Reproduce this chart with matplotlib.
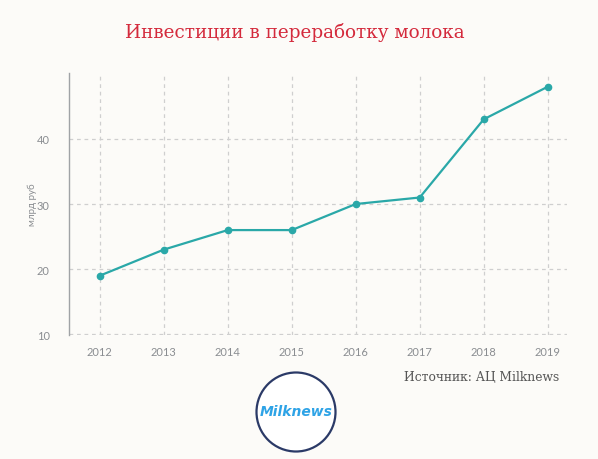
import matplotlib
matplotlib.use("Agg")
import matplotlib.pyplot as plt
from matplotlib.patches import Circle

years = [2012, 2013, 2014, 2015, 2016, 2017, 2018, 2019]
invest = [19, 23, 26, 26, 30, 31, 43, 48]
yticks = [10, 20, 30, 40]

bg = "#fcfbf8"
teal = "#2aa8a8"
grey = "#8a8d91"

fig = plt.figure(figsize=(5.98, 4.60), dpi=100, facecolor=bg)
ax = fig.add_axes([0.1154, 0.2696, 0.8326, 0.5694], facecolor=bg)

ax.plot(years, invest, color=teal, lw=1.6, marker="o", ms=4.5, zorder=3)

ax.set_xlim(2011.52, 2019.3)
ax.set_ylim(9.9, 50.1)
ax.set_xticks(years)
ax.set_yticks(yticks)
ax.grid(True, color="#cfcfcf", ls=(0, (3, 3)), lw=0.9)
for s in ["top", "right", "bottom"]:
    ax.spines[s].set_visible(False)
ax.spines["left"].set_color("#a0a3a6")
ax.spines["left"].set_linewidth(1.0)
ax.tick_params(length=0, labelsize=8, colors=grey, pad=8)
ax.tick_params(axis="y", pad=14)
for lab in ax.get_xticklabels() + ax.get_yticklabels():
    lab.set_family("Lato")
ax.set_ylabel("млрд руб", fontsize=7, color=grey, family="Lato")
ax.yaxis.set_label_coords(-0.065, 0.5)

fig.text(0.493, 0.930, "Инвестиции в переработку молока", ha="center", va="center",
         fontsize=13.2, color="#d42a3c", family="DejaVu Serif")
fig.text(0.676, 0.180, "Источник: АЦ Milknews", ha="left", va="center",
         fontsize=8.8, color="#555555", family="DejaVu Serif")

# logo
lax = fig.add_axes([296/598 - 45/598, 1 - (413 + 45)/460, 90/598, 90/460])
lax.set_xlim(-45, 45)
lax.set_ylim(-45, 45)
lax.set_aspect("equal")
lax.axis("off")
lax.add_patch(Circle((0, 0), 39.5, facecolor="white", edgecolor="#2b3a67", lw=1.6))
lax.text(0, 1, "Milknews", ha="center", va="center", fontsize=10, color="#2ea3e6",
         style="italic", weight="bold", family="DejaVu Sans")

fig.savefig("out.png", dpi=100, facecolor=bg)
